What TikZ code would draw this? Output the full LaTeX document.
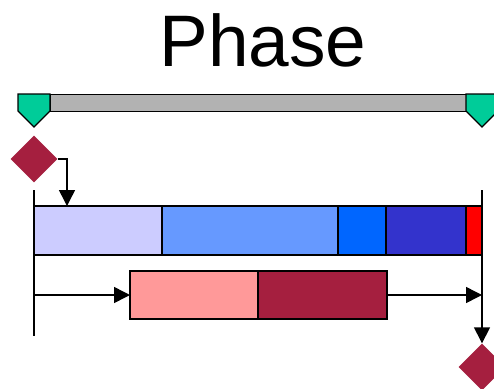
\documentclass[tikz,border=0pt]{standalone}
\usepackage{fontspec}
\setmainfont{Liberation Sans}
\usetikzlibrary{shapes.geometric,arrows.meta}
\definecolor{mileGreen}{HTML}{00CC99}
\definecolor{maroon}{HTML}{A51F3F}
\definecolor{spanGray}{HTML}{B2B2B2}
\definecolor{lav}{HTML}{CCCCFF}
\definecolor{midBlue}{HTML}{6699FF}
\definecolor{brBlue}{HTML}{0066FF}
\definecolor{dkBlue}{HTML}{3333CC}
\definecolor{pink}{HTML}{FF9999}
\begin{document}
\begin{tikzpicture}[x=1pt,y=-1pt,
  seg/.style={draw=black,line width=2.4pt,minimum height=49pt,inner sep=0pt,outer sep=0pt,anchor=north west},
  sub/.style={seg,minimum height=48pt},
  mile/.style={fill=mileGreen,draw=black,line width=1.2pt,line join=miter},
  gate/.style={diamond,fill=maroon,minimum size=47pt,inner sep=0pt},
  link/.style={draw=black,line width=1.5pt},
  arr/.style={link,-{Triangle[length=16pt,width=16pt]}}]
\useasboundingbox (0,0) rectangle (494,388);

% title
\node[anchor=base,font=\fontsize{73}{80}\selectfont,inner sep=0pt] (title) at (263,66) {Phase};

% span bar with milestone markers
\node[draw=black,fill=spanGray,line width=1.2pt,anchor=north west,minimum width=417pt,minimum height=17pt,inner sep=0pt] (span) at (50,94) {};
\path[mile] (18,94) -- (50,94) -- (50,111) -- (34,127) -- (18,111) -- cycle;
\path[mile] (466,94) -- (498,94) -- (498,111) -- (482,127) -- (466,111) -- cycle;

% main phase bar
\node[seg,fill=lav,minimum width=128pt] (s1) at (34,206) {};
\node[seg,fill=midBlue,minimum width=176pt] (s2) at (162,206) {};
\node[seg,fill=brBlue,minimum width=48pt] (s3) at (338,206) {};
\node[seg,fill=dkBlue,minimum width=80pt] (s4) at (386,206) {};
\node[seg,fill=red,minimum width=16pt] (s5) at (466,206) {};

% sub-phase bar
\node[sub,fill=pink,minimum width=128pt] (b1) at (130,271) {};
\node[sub,fill=maroon,minimum width=129pt] (b2) at (258,271) {};

% gates
\node[gate] (d1) at (34,159) {};
\node[gate] (d2) at (482,367) {};

% connectors
\coordinate (tap) at (67,206);
\coordinate (lt) at (34,190);
\coordinate (lb) at (34,336);
\coordinate (rt) at (482,190);
\draw[arr] (d1.east) -| (tap);
\draw[link] (lt) -- (lb);
\draw[arr] (lb |- b1.west) -- (b1.west);
\draw[arr] (b2.east) -- (rt |- b2.east);
\draw[arr] (rt) -- (d2.north);
\end{tikzpicture}
\end{document}
